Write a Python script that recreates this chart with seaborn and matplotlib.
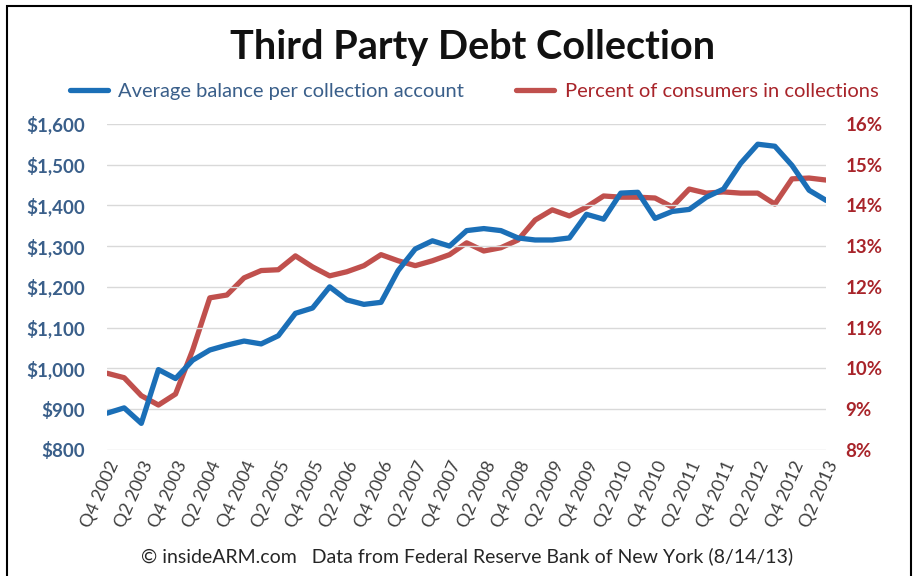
import numpy as np
import pandas as pd
import seaborn as sns
import matplotlib.pyplot as plt
from matplotlib.patches import Rectangle
from matplotlib.ticker import FuncFormatter, MultipleLocator

# quarterly series, Q4 2002 .. Q2 2013
quarters = ["Q4 2002"]
for yr in range(2003, 2013):
    quarters += [f"Q{q} {yr}" for q in (1, 2, 3, 4)]
quarters += ["Q1 2013", "Q2 2013"]

avg_balance = [890, 903, 865, 997, 975, 1020, 1045, 1057, 1067, 1060, 1080,
               1135, 1148, 1200, 1168, 1157, 1162, 1240, 1293, 1313, 1300,
               1338, 1343, 1338, 1320, 1315, 1315, 1320, 1378, 1366, 1430,
               1432, 1368, 1385, 1390, 1420, 1440, 1503, 1550, 1545, 1498,
               1437, 1412]

pct_consumers = [9.88, 9.77, 9.33, 9.10, 9.37, 10.45, 11.73, 11.80, 12.22,
                 12.40, 12.42, 12.76, 12.49, 12.27, 12.37, 12.52, 12.79,
                 12.64, 12.52, 12.64, 12.79, 13.08, 12.88, 12.96, 13.15,
                 13.64, 13.89, 13.74, 13.96, 14.23, 14.20, 14.20, 14.18,
                 13.96, 14.40, 14.30, 14.33, 14.30, 14.30, 14.03, 14.65,
                 14.67, 14.62]

BLUE = '#1B6FB7'
RED = '#C0504D'
BLUE_TXT = '#3A5F8A'
RED_TXT = '#A8242A'

df = pd.DataFrame({
    "idx": np.arange(len(quarters)),
    "quarter": quarters,
    "balance": avg_balance,
    "pct": pct_consumers,
})

sns.set_style("white")
plt.rcParams['font.family'] = ['Lato', 'DejaVu Sans']

fig = plt.figure(figsize=(9.15, 5.76), dpi=100)
ax = fig.add_axes([0.117, 0.219, 0.786, 0.566])
ax2 = ax.twinx()

sns.lineplot(data=df, x="idx", y="balance", ax=ax, color=BLUE, linewidth=3.8,
             label="Average balance per collection account", legend=False)
sns.lineplot(data=df, x="idx", y="pct", ax=ax2, color=RED, linewidth=3.8,
             label="Percent of consumers in collections", legend=False)

ax.set_xlim(0, len(quarters) - 1)
ax.set_ylim(800, 1600)
ax2.set_ylim(8, 16)
ax.yaxis.set_major_locator(MultipleLocator(100))
ax2.yaxis.set_major_locator(MultipleLocator(1))
ax.yaxis.set_major_formatter(FuncFormatter(lambda v, p: f"${v:,.0f}"))
ax2.yaxis.set_major_formatter(FuncFormatter(lambda v, p: f"{v:.0f}%"))

ax.grid(axis='y', color='#D9D9D9', linewidth=1)
ax.set_axisbelow(True)
ax.set_zorder(ax2.get_zorder() + 1)
ax.patch.set_visible(False)
for a in (ax, ax2):
    for s in a.spines.values():
        s.set_visible(False)
    a.set_xlabel("")
    a.set_ylabel("")

tick_pos = df["idx"][::2]
ax.set_xticks(tick_pos)
ax.set_xticklabels(df["quarter"][::2], rotation=66, ha='right',
                   rotation_mode='anchor', fontsize=13, color='#404040')
ax.tick_params(axis='x', length=0, pad=6)
ax.tick_params(axis='y', length=0, pad=16, labelsize=13.5, labelcolor=BLUE_TXT)
ax2.tick_params(axis='y', length=0, pad=14, labelsize=13.5, labelcolor=RED_TXT)
for t in ax.get_yticklabels() + ax2.get_yticklabels():
    t.set_fontweight('bold')

fig.text(0.516, 0.918, "Third Party Debt Collection", ha='center', va='center',
         fontsize=28.5, fontweight='bold', color='#111111')

handles = ax.get_lines()[:1] + ax2.get_lines()[:1]
leg = fig.legend(handles, [h.get_label() for h in handles], loc='center',
                 bbox_to_anchor=(0.518, 0.842), ncol=2, frameon=False,
                 fontsize=14.5, handlelength=1.9, handletextpad=0.5,
                 columnspacing=2.6, labelcolor=[BLUE_TXT, RED_TXT])

fig.text(0.51, 0.035,
         "\u00a9 insideARM.com   Data from Federal Reserve Bank of New York (8/14/13)",
         ha='center', va='center', fontsize=14, color='#262626')

fig.patches.append(Rectangle((0.008, -0.01), 0.988, 1.0, transform=fig.transFigure,
                             fill=False, edgecolor='black', linewidth=1.5))

fig.savefig("out.png", dpi=100)
